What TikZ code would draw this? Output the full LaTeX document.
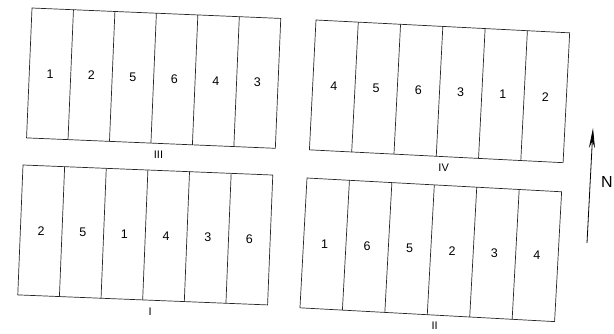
\documentclass[tikz,border=0pt]{standalone}
\usepackage{fontspec}
\setmainfont{Liberation Sans}
\usetikzlibrary{arrows.meta}

\begin{document}
\begin{tikzpicture}[
    x=1pt, y=1pt,
    plot/.style={draw=black!85, line width=0.7pt},
    entry/.style={font=\fontsize{12.5}{14}\selectfont},
    blocklab/.style={font=\fontsize{11}{13}\selectfont},
    northarr/.style={-{Stealth[length=20pt,width=6pt]}, line width=0.8pt}
]
\useasboundingbox (0,0) rectangle (614,-333);
% blocks: name / top-left corner / width / tilt / treatment order
\foreach \blk/\px/\py/\w/\ang/\trts in {III/32/-8/249/-2.4/{1,2,5,6,4,3},
    IV/316/-20/254/-2.9/{4,5,6,3,1,2},
    I/23/-165/250/-2.3/{2,5,1,4,3,6},
    II/307/-178/255/-3.1/{1,6,5,2,3,4}}{
  \begin{scope}[shift={(\px,\py)}, rotate=\ang]
    \draw[plot] (0,0) rectangle (\w,-130);
    \foreach \t [count=\i] in \trts {
      \ifnum\i<6 \draw[plot] ({\i*\w/6},0) -- ({\i*\w/6},-130); \fi
      \node[entry] (\blk-\i) at ({(\i-0.5)*\w/6},-65) {\t};
    }
    \node[blocklab] (lab-\blk) at ({\w/2+8},-141) {\blk};
  \end{scope}
}
% north arrow
\coordinate (ntail) at (587,-243);
\coordinate (nhead) at (593,-128);
\draw[northarr] (ntail) -- (nhead);
\node[font=\fontsize{16}{18}\selectfont] (north) at (607,-182) {N};
\end{tikzpicture}
\end{document}
